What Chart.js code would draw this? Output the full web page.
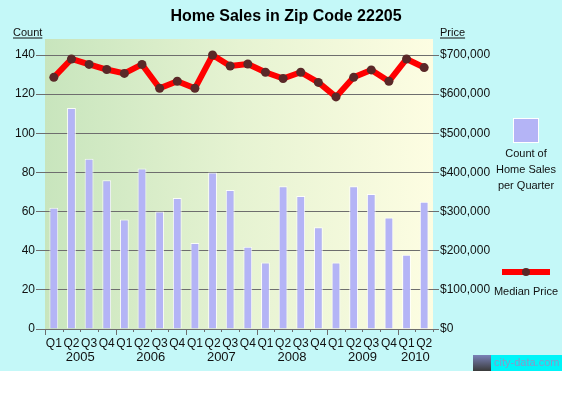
<!DOCTYPE html>
<html>
<head>
<meta charset="utf-8">
<script src="https://cdn.jsdelivr.net/npm/chart.js@4/dist/chart.umd.min.js"></script>
<style>
  html, body { margin: 0; padding: 0; background: #ffffff; }
  #wrap { width: 572px; height: 397px; }
</style>
</head>
<body>
<div id="wrap"><canvas id="c" width="572" height="397"></canvas></div>
<script>
const quarters = ['Q1','Q2','Q3','Q4','Q1','Q2','Q3','Q4','Q1','Q2','Q3','Q4','Q1','Q2','Q3','Q4','Q1','Q2','Q3','Q4','Q1','Q2'];
const years = ['2005','2006','2007','2008','2009','2010'];
const counts = [62, 113, 87, 76, 56, 82, 60, 67, 44, 80, 71, 42, 34, 73, 68, 52, 34, 73, 69, 57, 38, 65];
const prices = [643000, 690000, 676000, 663000, 653000, 676000, 615000, 633000, 615000, 700000, 672000, 677000, 656000, 640000, 656000, 630000, 593000, 643000, 662000, 633000, 690000, 668000];
const countTicks = [0, 20, 40, 60, 80, 100, 120, 140];
const priceTicks = [0, 100000, 200000, 300000, 400000, 500000, 600000, 700000];

const FONT = '"Liberation Sans", Arial, sans-serif';
const BAR_COLOR = '#b4b4f6';
const LINE_COLOR = '#ff0000';
const DOT_COLOR = '#5a2828';
const GRID_COLOR = '#6e6e6e';

const decor = {
  id: 'decor',
  beforeDraw(chart) {
    const ctx = chart.ctx;
    const a = chart.chartArea;
    ctx.save();
    ctx.fillStyle = '#ffffff';
    ctx.fillRect(0, 0, chart.width, chart.height);
    ctx.fillStyle = '#c4f8f8';
    ctx.fillRect(0, 0, 562, 371);
    const g = ctx.createLinearGradient(a.left, 0, a.right, 0);
    g.addColorStop(0, '#c8e5bd');
    g.addColorStop(0.5, '#e6f3d2');
    g.addColorStop(1, '#fdfde2');
    ctx.fillStyle = g;
    ctx.fillRect(a.left, a.top, a.right - a.left, a.bottom - a.top);
    ctx.restore();
  },
  afterDraw(chart) {
    const ctx = chart.ctx;
    const a = chart.chartArea;
    const xs = chart.scales.x;
    ctx.save();
    // title
    ctx.fillStyle = '#000';
    ctx.font = 'bold 16px ' + FONT;
    ctx.textAlign = 'center';
    ctx.textBaseline = 'middle';
    ctx.fillText('Home Sales in Zip Code 22205', 286, 17);
    // axis titles
    ctx.font = '11px ' + FONT;
    ctx.fillStyle = '#111';
    ctx.textAlign = 'left';
    ctx.textBaseline = 'alphabetic';
    ctx.fillText('Count', 13, 36);
    let w = ctx.measureText('Count').width;
    ctx.fillRect(13, 37.5, w, 1);
    ctx.fillText('Price', 440, 36);
    w = ctx.measureText('Price').width;
    ctx.fillRect(440, 37.5, w, 1);
    // x ticks at category boundaries
    ctx.strokeStyle = GRID_COLOR;
    ctx.lineWidth = 1;
    for (let i = 0; i <= quarters.length; i++) {
      let px;
      if (i === 0) px = a.left;
      else if (i === quarters.length) px = a.right;
      else px = (xs.getPixelForValue(i - 1) + xs.getPixelForValue(i)) / 2;
      const len = (i % 4 === 0) ? 6 : 3;
      ctx.beginPath();
      ctx.moveTo(Math.round(px) + 0.5, a.bottom);
      ctx.lineTo(Math.round(px) + 0.5, a.bottom + len);
      ctx.stroke();
    }
    // year labels
    ctx.fillStyle = '#111';
    ctx.font = '13px ' + FONT;
    ctx.textAlign = 'center';
    ctx.textBaseline = 'middle';
    years.forEach((y, k) => {
      const first = k * 4;
      const last = Math.min(k * 4 + 3, quarters.length - 1);
      const px = (xs.getPixelForValue(first) + xs.getPixelForValue(last)) / 2;
      ctx.fillText(y, px, 357);
    });
    // legend: bars
    ctx.fillStyle = '#ffffff';
    ctx.fillRect(513, 118, 26, 25);
    ctx.fillStyle = BAR_COLOR;
    ctx.fillRect(514, 119, 24, 23);
    ctx.fillStyle = '#111';
    ctx.font = '11px ' + FONT;
    ctx.fillText('Count of', 526, 154);
    ctx.fillText('Home Sales', 526, 170);
    ctx.fillText('per Quarter', 526, 186);
    // legend: line
    ctx.fillStyle = LINE_COLOR;
    ctx.fillRect(502, 269, 48, 6);
    ctx.fillStyle = DOT_COLOR;
    ctx.beginPath();
    ctx.arc(526, 272, 4, 0, Math.PI * 2);
    ctx.fill();
    ctx.fillStyle = '#111';
    ctx.fillText('Median Price', 526, 292);
    // watermark
    const wg = ctx.createLinearGradient(0, 355, 0, 371);
    wg.addColorStop(0, '#7a82b8');
    wg.addColorStop(1, '#3a3a3a');
    ctx.fillStyle = wg;
    ctx.fillRect(473, 355, 18, 16);
    ctx.fillStyle = '#00f4f8';
    ctx.fillRect(491, 355, 71, 16);
    ctx.fillStyle = '#8c96c8';
    ctx.font = '11px ' + FONT;
    ctx.textAlign = 'left';
    ctx.fillText('city-data.com', 494, 363);
    ctx.restore();
  }
};

new Chart(document.getElementById('c'), {
  data: {
    labels: quarters,
    datasets: [
      {
        type: 'line',
        label: 'Median Price',
        data: prices,
        yAxisID: 'yPrice',
        borderColor: LINE_COLOR,
        borderWidth: 6,
        tension: 0,
        pointRadius: 4.5,
        pointBackgroundColor: DOT_COLOR,
        pointBorderWidth: 0,
        borderJoinStyle: 'round',
        order: 0
      },
      {
        type: 'bar',
        label: 'Count of Home Sales per Quarter',
        data: counts,
        yAxisID: 'yCount',
        backgroundColor: BAR_COLOR,
        borderColor: 'rgba(255,255,255,0.85)',
        borderWidth: { left: 1, right: 1, top: 1, bottom: 0 },
        borderSkipped: 'bottom',
        barPercentage: 0.5,
        categoryPercentage: 1.0,
        order: 1
      }
    ]
  },
  options: {
    responsive: false,
    devicePixelRatio: 1,
    animation: false,
    layout: { padding: { top: 39, left: 0, right: 0, bottom: 0 } },
    plugins: {
      legend: { display: false },
      title: { display: false },
      tooltip: { enabled: false }
    },
    scales: {
      x: {
        type: 'category',
        offset: true,
        grid: { display: false, drawTicks: false },
        border: { display: false },
        ticks: {
          color: '#111',
          font: { family: FONT, size: 12 },
          padding: 7,
          maxRotation: 0,
          autoSkip: false
        },
        afterFit(s) { s.height = 68; }
      },
      yCount: {
        type: 'linear',
        position: 'left',
        min: 0,
        max: 148.2,
        afterBuildTicks(s) { s.ticks = countTicks.map(v => ({ value: v })); },
        grid: { color: GRID_COLOR, lineWidth: 1, tickLength: 9, drawTicks: true },
        border: { display: false },
        ticks: {
          color: '#111',
          font: { family: FONT, size: 12 },
          padding: 1
        },
        afterFit(s) { s.width = 45; }
      },
      yPrice: {
        type: 'linear',
        position: 'right',
        min: 0,
        max: 741000,
        afterBuildTicks(s) { s.ticks = priceTicks.map(v => ({ value: v })); },
        grid: { drawOnChartArea: false, color: GRID_COLOR, tickLength: 6, drawTicks: true },
        border: { display: false },
        ticks: {
          color: '#111',
          font: { family: FONT, size: 12 },
          padding: 1,
          callback: v => '$' + Number(v).toLocaleString('en-US')
        },
        afterFit(s) { s.width = 139; }
      }
    }
  },
  plugins: [decor]
});
</script>
</body>
</html>
